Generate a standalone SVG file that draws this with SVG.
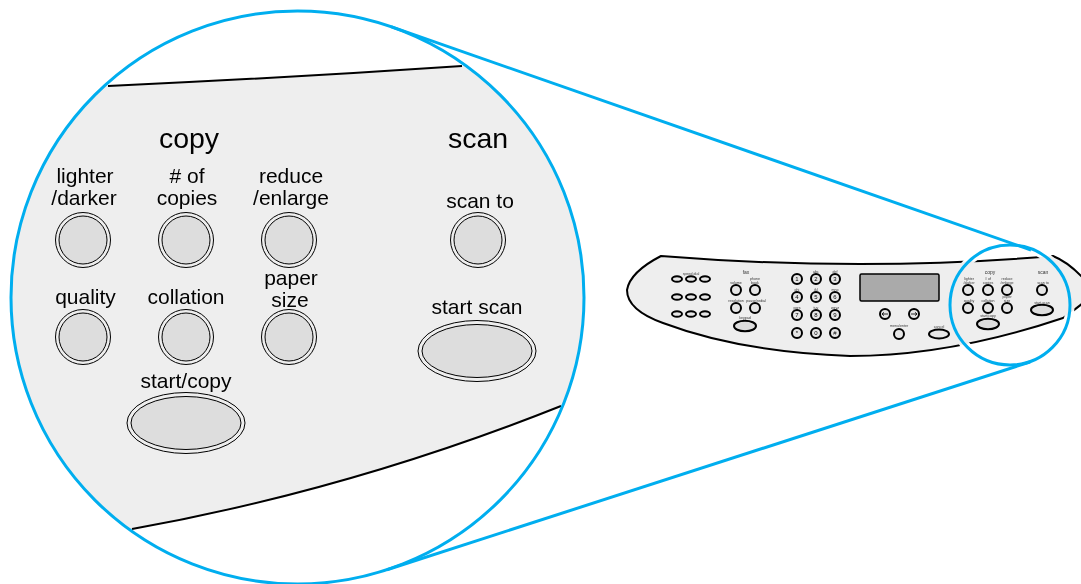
<svg xmlns="http://www.w3.org/2000/svg" width="1081" height="584" viewBox="0 0 1081 584">
<style>
text{font-family:"Liberation Sans",Arial,sans-serif;fill:#000;text-anchor:middle;opacity:.99}
.l{font-size:21px}.h{font-size:28.5px}.t{font-size:3.6px;opacity:.8}.h0{font-size:5px;opacity:.8}.n{font-size:6px}
.bo{fill:#eee;stroke:#000;stroke-width:1}.bi{fill:#ddd;stroke:#000;stroke-width:1}
.s{fill:#e6e6e6;stroke:#000;stroke-width:2}.sg{fill:#ddd;stroke:#000;stroke-width:2}
.blue{fill:none;stroke:#00aeef;stroke-width:3}.edge{fill:none;stroke:#000;stroke-width:2}
</style>
<defs>
<clipPath id="big"><circle cx="297.5" cy="297.5" r="286.5"/></clipPath>
<mask id="gap" maskUnits="userSpaceOnUse" x="0" y="0" width="1081" height="584"><rect width="1081" height="584" fill="#fff"/><circle cx="1010" cy="305" r="60" fill="none" stroke="#000" stroke-width="9"/></mask>
</defs>
<rect width="1081" height="584" fill="#fff"/>
<g id="large-panel">
<path clip-path="url(#big)" d="M108 86Q285 78 462 66L600 60V390L561 406Q350 490 132 529L60 560L0 400V86Z" fill="#eee"/>
<path class="edge" d="M108 86Q285 78 462 66"/>
<path class="edge" d="M132 529Q350 490 561 406"/>
</g>
<g id="large-copy-title"><text class="h" x="189" y="148">copy</text></g>
<g id="large-lighter-darker"><circle class="bo" cx="83" cy="240" r="27.5"/><circle class="bi" cx="83" cy="240" r="24"/><text class="l" x="85" y="183">lighter</text><text class="l" x="84" y="205">/darker</text></g>
<g id="large-copies"><circle class="bo" cx="186" cy="240" r="27.5"/><circle class="bi" cx="186" cy="240" r="24"/><text class="l" x="187" y="183"># of</text><text class="l" x="187" y="205">copies</text></g>
<g id="large-reduce-enlarge"><circle class="bo" cx="289" cy="240" r="27.5"/><circle class="bi" cx="289" cy="240" r="24"/><text class="l" x="291" y="183">reduce</text><text class="l" x="291" y="205">/enlarge</text></g>
<g id="large-quality"><circle class="bo" cx="83" cy="337" r="27.5"/><circle class="bi" cx="83" cy="337" r="24"/><text class="l" x="85.500" y="304">quality</text></g>
<g id="large-collation"><circle class="bo" cx="186" cy="337" r="27.5"/><circle class="bi" cx="186" cy="337" r="24"/><text class="l" x="186" y="304">collation</text></g>
<g id="large-paper-size"><circle class="bo" cx="289" cy="337" r="27.5"/><circle class="bi" cx="289" cy="337" r="24"/><text class="l" x="291" y="285">paper</text><text class="l" x="290" y="307">size</text></g>
<g id="large-start-copy"><ellipse class="bo" cx="186" cy="423" rx="59" ry="30.5"/><ellipse class="bi" cx="186" cy="423" rx="55" ry="26.5"/><text class="l" x="186" y="388">start/copy</text></g>
<g id="large-scan-title"><text class="h" x="478" y="148">scan</text></g>
<g id="large-scan-to"><circle class="bo" cx="478" cy="240" r="27.5"/><circle class="bi" cx="478" cy="240" r="24"/><text class="l" x="480" y="208">scan to</text></g>
<g id="large-start-scan"><ellipse class="bo" cx="477" cy="351" rx="59" ry="30.5"/><ellipse class="bi" cx="477" cy="351" rx="55" ry="26.5"/><text class="l" x="477" y="314">start scan</text></g>

<g id="small-panel">
<path d="M661 256Q760 264 860 264Q960 264 1053 256Q1068 262 1083 278V303Q1072 312 1063 318Q950 356 850 356Q740 352 663 323Q627 310 627 290Q630 272 661 256Z" fill="#eee"/>
<path mask="url(#gap)" d="M1083 278Q1068 262 1053 256Q960 264 860 264Q760 264 661 256Q630 272 627 290Q627 310 663 323Q740 352 850 356Q950 356 1063 318Q1072 312 1083 303" fill="none" stroke="#000" stroke-width="2"/>
</g>
<g id="small-speed-dial">
<text class="t" x="691" y="275">speed dial</text>
<ellipse class="s" cx="677" cy="279" rx="5" ry="2.8"/><ellipse class="s" cx="691" cy="279" rx="5" ry="2.8"/><ellipse class="s" cx="705" cy="279" rx="5" ry="2.8"/>
<ellipse class="s" cx="677" cy="297" rx="5" ry="2.8"/><ellipse class="s" cx="691" cy="297" rx="5" ry="2.8"/><ellipse class="s" cx="705" cy="297" rx="5" ry="2.8"/>
<ellipse class="s" cx="677" cy="314" rx="5" ry="2.8"/><ellipse class="s" cx="691" cy="314" rx="5" ry="2.8"/><ellipse class="s" cx="705" cy="314" rx="5" ry="2.8"/>
</g>
<g id="small-fax">
<text class="h0" x="746" y="274">fax</text>
<text class="t" x="736" y="284">volume</text><circle class="s" cx="736" cy="290" r="5"/>
<text class="t" x="755" y="279.500">phone</text><text class="t" x="755" y="284">book</text><circle class="s" cx="755" cy="290" r="5"/>
<text class="t" x="736" y="302">resolution</text><circle class="s" cx="736" cy="308" r="5"/>
<text class="t" x="756" y="302">pause/redial</text><circle class="s" cx="755" cy="308" r="5"/>
<text class="t" x="745" y="319">keypad</text><ellipse class="sg" cx="745" cy="326" rx="11" ry="5.300"/>
</g>
<g id="small-keypad">
<text class="t" x="816" y="273">abc</text><text class="t" x="835" y="273">def</text>
<text class="t" x="797" y="291">ghi</text><text class="t" x="816" y="291">jkl</text><text class="t" x="835" y="291">mno</text>
<text class="t" x="797" y="309">pqrs</text><text class="t" x="816" y="309">tuv</text><text class="t" x="835" y="309">wxyz</text>
<circle class="s" cx="797" cy="279" r="5"/><text class="n" x="797" y="281">1</text>
<circle class="s" cx="816" cy="279" r="5"/><text class="n" x="816" y="281">2</text>
<circle class="s" cx="835" cy="279" r="5"/><text class="n" x="835" y="281">3</text>
<circle class="s" cx="797" cy="297" r="5"/><text class="n" x="797" y="299">4</text>
<circle class="s" cx="816" cy="297" r="5"/><text class="n" x="816" y="299">5</text>
<circle class="s" cx="835" cy="297" r="5"/><text class="n" x="835" y="299">6</text>
<circle class="s" cx="797" cy="315" r="5"/><text class="n" x="797" y="317">7</text>
<circle class="s" cx="816" cy="315" r="5"/><text class="n" x="816" y="317">8</text>
<circle class="s" cx="835" cy="315" r="5"/><text class="n" x="835" y="317">9</text>
<circle class="s" cx="797" cy="333" r="5"/><text class="n" x="797" y="335">*</text>
<circle class="s" cx="816" cy="333" r="5"/><text class="n" x="816" y="335">0</text>
<circle class="s" cx="835" cy="333" r="5"/><text class="n" x="835" y="335">#</text>
</g>
<g id="small-display"><rect x="860" y="274" width="79" height="27" rx="1.500" fill="#aaa" stroke="#000" stroke-width="1.500"/></g>
<g id="small-controls">
<circle class="s" cx="885" cy="314" r="5"/><path d="M888 314H882M884 312.300L882 314L884 315.700" fill="none" stroke="#000" stroke-width=".8"/>
<circle class="s" cx="914" cy="314" r="5"/><path d="M911 314H917M915 312.300L917 314L915 315.700" fill="none" stroke="#000" stroke-width=".8"/>
<text class="t" x="899" y="327">menu/enter</text><circle class="s" cx="899" cy="334" r="5"/>
<text class="t" x="939" y="328">cancel</text><ellipse class="s" cx="939" cy="334" rx="10" ry="4.500"/>
</g>
<g id="small-copy">
<text class="h0" x="990" y="274">copy</text>
<text class="t" x="969" y="280">lighter</text><text class="t" x="969" y="284">/darker</text><circle class="s" cx="968" cy="290" r="5"/>
<text class="t" x="988" y="280"># of</text><text class="t" x="988" y="284">copies</text><circle class="s" cx="988" cy="290" r="5"/>
<text class="t" x="1007" y="280">reduce</text><text class="t" x="1007" y="284">/enlarge</text><circle class="s" cx="1007" cy="290" r="5"/>
<text class="t" x="969" y="302">quality</text><circle class="s" cx="968" cy="308" r="5"/>
<text class="t" x="988" y="302">collation</text><circle class="s" cx="988" cy="308" r="5"/>
<text class="t" x="1007" y="298">paper</text><text class="t" x="1007" y="302">size</text><circle class="s" cx="1007" cy="308" r="5"/>
<text class="t" x="988" y="317">start/copy</text><ellipse class="sg" cx="988" cy="324" rx="11" ry="5.300"/>
</g>
<g id="small-scan">
<text class="h0" x="1043" y="274">scan</text>
<text class="t" x="1043" y="284">scan to</text><circle class="s" cx="1042" cy="290" r="5"/>
<text class="t" x="1042" y="304">start scan</text><ellipse class="sg" cx="1042" cy="310" rx="11" ry="5.300"/>
</g>
<g id="connectors">
<circle class="blue" cx="297.500" cy="297.500" r="286.500"/>
<circle class="blue" cx="1010" cy="305" r="60"/>
<path class="blue" d="M391 26.700L1031 250"/>
<path class="blue" d="M387 569.700L1030 362"/>
</g>
</svg>
